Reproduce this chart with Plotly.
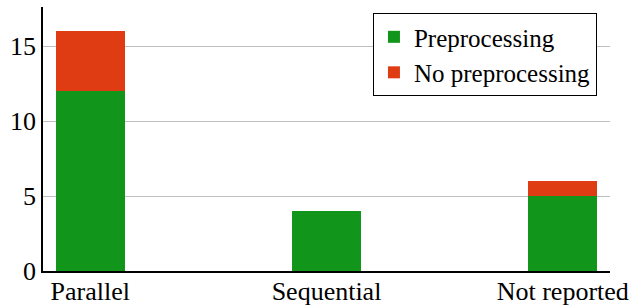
import plotly.graph_objects as go

categories = ["Parallel", "Sequential", "Not reported"]
preprocessing = [12, 4, 5]
no_preprocessing = [4, 0, 1]
y_ticks = [0, 5, 10, 15]

green = "rgb(18,149,27)"
red = "rgb(224,60,20)"
FONT = "Liberation Serif"

fig = go.Figure()
fig.add_trace(go.Bar(x=categories, y=preprocessing, name="Preprocessing",
                     marker=dict(color=green, line=dict(width=0)), width=0.29))
fig.add_trace(go.Bar(x=categories, y=no_preprocessing, name="No preprocessing",
                     marker=dict(color=red, line=dict(width=0)), width=0.29))

fig.update_layout(
    barmode="stack",
    width=632, height=305,
    margin=dict(l=43, r=22, t=7, b=34, pad=0, autoexpand=False),
    plot_bgcolor="white", paper_bgcolor="white",
    font=dict(family=FONT, size=26, color="black"),
    showlegend=True,
    legend=dict(x=0.977, y=0.977, xanchor="right", yanchor="top",
                traceorder="normal",
                bordercolor="black", borderwidth=1, bgcolor="white",
                font=dict(family=FONT, size=25), tracegroupgap=0),
    xaxis=dict(range=[-0.2, 2.2], showgrid=False, showline=True, linecolor="black",
               linewidth=1.5, ticks="", automargin=False, ticklabelstandoff=-4,
               tickfont=dict(family=FONT, size=26)),
    yaxis=dict(range=[0, 17.6], tickvals=y_ticks, showgrid=True, gridcolor="#c0c0c0",
               gridwidth=1, showline=True, linecolor="black", linewidth=1.5,
               ticks="", zeroline=False, automargin=False,
               tickfont=dict(family=FONT, size=26)),
)

fig.write_html(
    "out.html",
    config={"displayModeBar": False},
    post_script="document.body.style.margin='0';document.body.style.overflow='hidden';",
)
